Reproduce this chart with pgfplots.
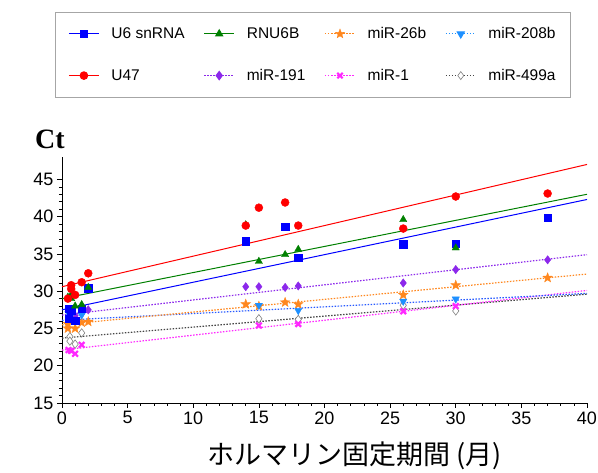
\documentclass[border=0pt]{standalone}
\usepackage{fontspec}
\setmainfont{Liberation Sans}
\newfontfamily\jp{Noto Sans CJK JP}
\newfontfamily\serifb{Liberation Serif}
\usepackage{pgfplots}
\pgfplotsset{compat=1.18}
\definecolor{cU6}{RGB}{0,0,255}
\definecolor{cU47}{RGB}{255,0,0}
\definecolor{cRNU}{RGB}{0,128,0}
\definecolor{c26}{RGB}{255,135,30}
\definecolor{c208}{RGB}{30,144,255}
\definecolor{c208l}{RGB}{40,90,255}
\definecolor{c191}{RGB}{140,40,235}
\definecolor{c1}{RGB}{255,40,255}
\definecolor{c499}{RGB}{70,70,70}
\pgfdeclareplotmark{fstar}{%
  \pgfpathmoveto{\pgfpointpolar{90}{\pgfplotmarksize}}%
  \pgfpathlineto{\pgfpointpolar{126}{0.42\pgfplotmarksize}}%
  \pgfpathlineto{\pgfpointpolar{162}{\pgfplotmarksize}}%
  \pgfpathlineto{\pgfpointpolar{198}{0.42\pgfplotmarksize}}%
  \pgfpathlineto{\pgfpointpolar{234}{\pgfplotmarksize}}%
  \pgfpathlineto{\pgfpointpolar{270}{0.42\pgfplotmarksize}}%
  \pgfpathlineto{\pgfpointpolar{306}{\pgfplotmarksize}}%
  \pgfpathlineto{\pgfpointpolar{342}{0.42\pgfplotmarksize}}%
  \pgfpathlineto{\pgfpointpolar{18}{\pgfplotmarksize}}%
  \pgfpathlineto{\pgfpointpolar{54}{0.42\pgfplotmarksize}}%
  \pgfpathclose\pgfusepathqfillstroke}
\begin{document}
\begin{tikzpicture}[x=1pt,y=1pt]
\path[use as bounding box] (-62,-70) rectangle (536,403);
\begin{axis}[
  scale only axis, width=525pt, height=246pt,
  xmin=0, xmax=40, ymin=15, ymax=48,
  xtick={0,5,...,40}, ytick={15,20,...,45},
  minor x tick num=4, minor y tick num=4,
  axis x line*=bottom, axis y line*=left,
  tick align=outside, major tick length=5pt, minor tick length=3pt,
  axis line style={black, line width=0.9pt},
  every tick/.style={black, line width=0.6pt},
  /pgf/number format/assume math mode=true,
  ticklabel style={font=\fontsize{18}{18}\selectfont},
  xlabel={ホルマリン固定期間 (月)},
  xlabel style={at={(axis description cs:0.558,-0.215)}, anchor=center, font=\jp\fontsize{27}{27}\selectfont},
  ylabel={Ct},
  ylabel style={rotate=-90, at={(axis description cs:-0.023,1.073)}, anchor=center, font=\serifb\bfseries\fontsize{28}{28}\selectfont},
  legend columns=4,
  legend cell align=left,
  legend image code/.code={\draw[mark repeat=2,mark phase=2] plot coordinates {(0pt,0pt) (15pt,0pt) (30pt,0pt)};},
  legend style={at={(axis description cs:-0.0133,1.589)}, anchor=north west, draw=gray!70, line width=0.8pt,
    font=\fontsize{15.5}{15.5}\selectfont, inner xsep=13pt, inner ysep=13pt, row sep=25pt,
    /tikz/every odd column/.append style={column sep=10pt},
    /tikz/every even column/.append style={column sep=17pt}},
]
% legend images
\addlegendimage{cU6, line width=1pt, mark=square*, mark size=3.5pt}
\addlegendentry{U6 snRNA}
\addlegendimage{cRNU, line width=1pt, mark=triangle*, mark size=4pt}
\addlegendentry{RNU6B}
\addlegendimage{c26, line width=1.2pt, dash pattern=on 1.5pt off 1.5pt, mark=fstar, mark size=4.8pt, mark options={solid, line width=0.4pt}}
\addlegendentry{miR-26b}
\addlegendimage{c208, line width=1.2pt, dash pattern=on 1.5pt off 1.5pt, mark=triangle*, mark size=4pt, mark options={solid, rotate=180}}
\addlegendentry{miR-208b}
\addlegendimage{cU47, line width=1pt, mark=*, mark size=3.8pt}
\addlegendentry{U47}
\addlegendimage{c191, line width=1.2pt, dash pattern=on 1.5pt off 1.5pt, mark=diamond*, mark size=4pt, mark options={solid}}
\addlegendentry{miR-191}
\addlegendimage{c1, line width=1.2pt, dash pattern=on 1.5pt off 1.5pt, mark=x, mark size=3.8pt, mark options={solid, line width=2pt}}
\addlegendentry{miR-1}
\addlegendimage{c499, line width=1.2pt, dash pattern=on 1.5pt off 1.5pt, mark=diamond*, mark size=4pt, mark options={solid, fill=white, draw=gray, line width=0.6pt}}
\addlegendentry{miR-499a}

% trend lines
\addplot[forget plot, c499, line width=1.2pt, dash pattern=on 1.5pt off 1.5pt] coordinates {(0,23.7) (40,29.6)};
\addplot[forget plot, c1, line width=1.2pt, dash pattern=on 1.5pt off 1.5pt] coordinates {(0,22.1) (40,30.1)};
\addplot[forget plot, c208l, line width=1.2pt, dash pattern=on 1.5pt off 1.5pt] coordinates {(0,26.1) (40,29.7)};
\addplot[forget plot, c26, line width=1.2pt, dash pattern=on 1.5pt off 1.5pt] coordinates {(0,25.5) (40,32.3)};
\addplot[forget plot, c191, line width=1.2pt, dash pattern=on 1.5pt off 1.5pt] coordinates {(0,26.8) (40,34.9)};
\addplot[forget plot, cU6, line width=1pt] coordinates {(0,27.5) (40,42.3)};
\addplot[forget plot, cRNU, line width=1pt] coordinates {(0,29.0) (40,43.0)};
\addplot[forget plot, cU47, line width=1pt] coordinates {(0,30.6) (40,47.0)};

% data points
\addplot[forget plot, only marks, mark=diamond*, mark size=4.2pt, mark options={fill=white, draw=gray, line width=0.6pt}] coordinates {
 (0.6,23.9) (0.6,23.3) (1,22.9) (1.5,24.4) (15,26.3) (18,26.2) (26,28.1) (30,27.35)};
\addplot[forget plot, only marks, c1, mark=x, mark size=4pt, mark options={line width=2.2pt}] coordinates {
 (0.5,22.1) (0.7,22.0) (1,21.6) (1.5,22.8) (15,25.4) (18,25.6) (26,27.3) (30,28.0)};
\addplot[forget plot, only marks, c26, mark=fstar, mark size=5pt, mark options={line width=0.4pt}] coordinates {
 (0.45,25.6) (0.45,25.0) (0.7,26.4) (1,25.0) (1.5,25.8) (2,25.9) (14,28.25) (15,28.0) (17,28.5) (18,28.25) (26,29.5) (30,30.8) (37,31.8)};
\addplot[forget plot, only marks, c191, mark=diamond*, mark size=4.2pt] coordinates {
 (0.5,26.4) (0.7,27.1) (1,26.7) (1.5,27.0) (2,27.5) (14,30.6) (15,30.6) (17,30.5) (18,30.7) (26,31.1) (30,32.9) (37,34.2)};
\addplot[forget plot, only marks, c208, mark=triangle*, mark size=4.2pt, mark options={rotate=180}] coordinates {
 (0.5,27.0) (0.7,26.8) (1,26.2) (1.5,26.8) (15,28.1) (18,27.4) (26,28.65) (30,28.95)};
\addplot[forget plot, only marks, cU6, mark=square*, mark size=3.6pt] coordinates {
 (0.5,27.7) (0.5,26.3) (0.7,27.4) (1,26.0) (1.5,27.6) (2,30.4) (14,36.7) (17,38.7) (18,34.5) (26,36.3) (30,36.4) (37,39.9)};
\addplot[forget plot, only marks, cRNU, mark=triangle*, mark size=4.2pt] coordinates {
 (0.45,29.2) (0.7,29.5) (0.7,29.0) (1,28.0) (1.5,28.2) (2,30.5) (14,38.9) (15,34.0) (17,34.9) (18,35.6) (26,39.6) (30,35.8)};
\addplot[forget plot, only marks, cU47, mark=*, mark size=4pt] coordinates {
 (0.45,29.0) (0.7,30.8) (0.7,30.3) (1,29.5) (1.5,31.2) (2,32.4) (14,38.8) (15,41.2) (17,41.9) (18,38.8) (26,38.4) (30,42.7) (37,43.1)};
\end{axis}
\end{tikzpicture}
\end{document}
